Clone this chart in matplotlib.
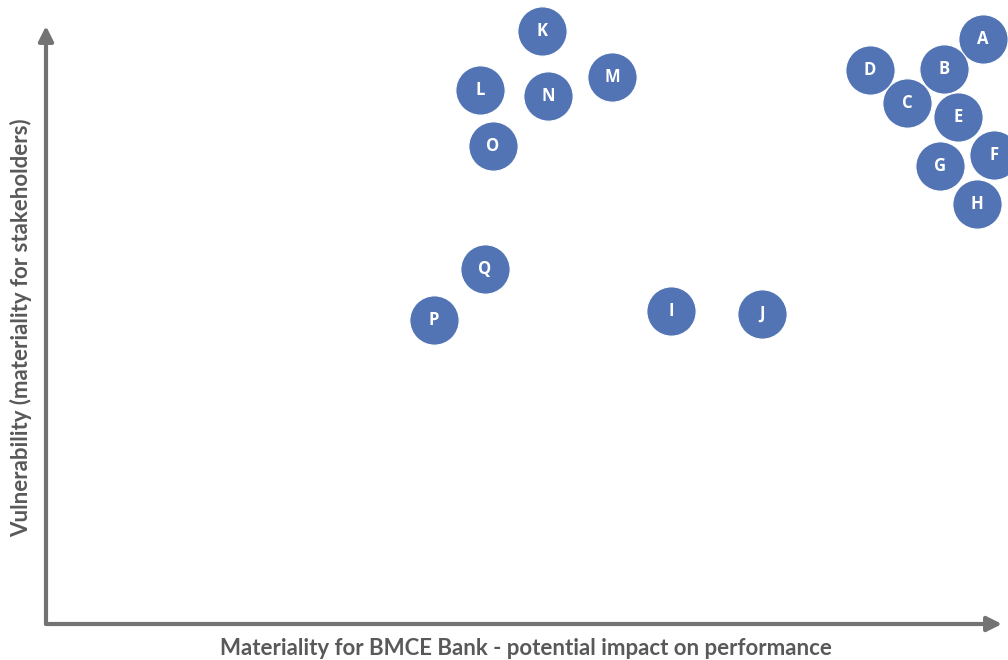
import matplotlib.pyplot as plt

# materiality matrix: topic codes with (impact on performance, vulnerability) scores
topics = ["A", "B", "C", "D", "E", "F", "G", "H", "I",
          "J", "K", "L", "M", "N", "O", "P", "Q"]
impact = [93.7, 89.8, 86.1, 82.4, 91.2, 94.8, 89.4, 93.1, 62.5,
          71.6, 49.6, 43.4, 56.6, 50.2, 44.7, 38.8, 43.9]
vulnerability = [58.5, 55.5, 52.1, 55.4, 50.7, 46.9, 45.8, 42.0, 31.3,
                 31.0, 59.3, 53.4, 54.7, 52.8, 47.8, 30.4, 35.5]

bubble_color = "#5274B4"
axis_color = "#737373"
label_color = "#595959"

fig = plt.figure(figsize=(10.08, 6.60), dpi=100)
ax = fig.add_axes([0, 0, 1, 1])
ax.set_xlim(-4.6, 96.2)
ax.set_ylim(-3.6, 62.4)
ax.axis("off")

# axes drawn as arrows from the origin
ax.annotate("", xy=(95.6, 0), xytext=(0, 0),
            arrowprops=dict(arrowstyle="-|>", color=axis_color, lw=3,
                            mutation_scale=22, shrinkA=0, shrinkB=0))
ax.annotate("", xy=(0, 59.8), xytext=(0, 0),
            arrowprops=dict(arrowstyle="-|>", color=axis_color, lw=3,
                            mutation_scale=22, shrinkA=0, shrinkB=0))

ax.scatter(impact, vulnerability, s=1260, color=bubble_color,
           edgecolors="white", linewidths=0.8, zorder=3)
for t, x, y in zip(topics, impact, vulnerability):
    ax.text(x, y, t, color="white", fontsize=12, fontweight="bold",
            family=["Open Sans", "DejaVu Sans"], ha="center", va="center", zorder=4)

fig.text(0.522, 0.018, "Materiality for BMCE Bank - potential impact on performance",
         color=label_color, fontsize=16, fontweight="bold", family=["Lato", "DejaVu Sans"],
         ha="center", va="center")
fig.text(0.021, 0.503, "Vulnerability (materiality for stakeholders)",
         color=label_color, fontsize=16, fontweight="bold", family=["Lato", "DejaVu Sans"],
         ha="center", va="center", rotation=90)

fig.savefig("out.png", dpi=100)
